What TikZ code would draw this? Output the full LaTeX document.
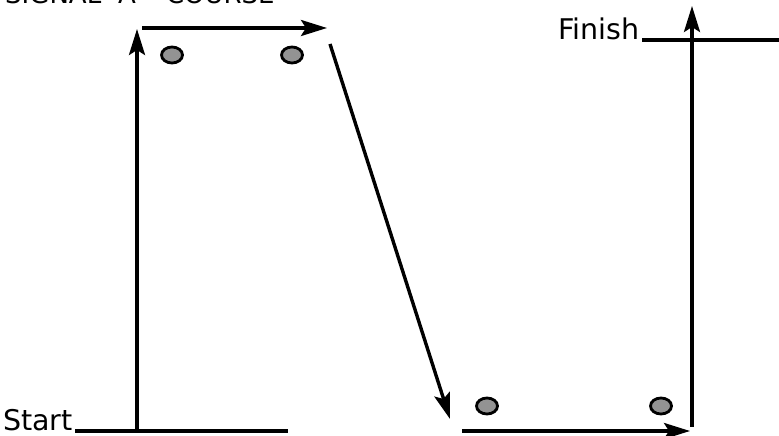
\documentclass[tikz,border=0pt]{standalone}
\usepackage{fontspec}
\setmainfont{DejaVu Sans}
\usetikzlibrary{arrows.meta,shapes.geometric}
\definecolor{dotgray}{HTML}{939393}
\tikzset{
  course/.style={line width=3.4pt, draw=black},
  leg/.style={course, -{Stealth[length=26pt,width=16pt,inset=5pt]}},
  marker/.style={ellipse, draw=black, line width=2.8pt, fill=dotgray, minimum width=21pt, minimum height=16pt, inner sep=0pt},
  lab/.style={inner sep=0pt, anchor=base west, font=\fontsize{28.5}{31}\selectfont},
  titlelab/.style={inner sep=0pt, anchor=base west, font=\fontsize{26}{29}\selectfont}
}
\begin{document}
\begin{tikzpicture}[x=1pt,y=1pt]
\clip (0,0) rectangle (779,436);
\useasboundingbox (0,0) rectangle (779,436);
\fill[white] (0,0) rectangle (779,436);
% title (cut off by the top edge)
\node[titlelab] (title) at (5,432) {SIGNAL\hspace{17pt}A\hspace{30pt}COURSE};
% labels
\node[lab] (start) at (3,5) {Start};
\node[lab] (finish) at (558,396) {Finish};
% start and finish lines
\coordinate (s1) at (75,5);
\coordinate (s2) at (288,5);
\coordinate (f1) at (642,396);
\coordinate (f2) at (779,396);
\draw[course] (s1) -- (s2);
\draw[course] (f1) -- (f2);
% course legs
\coordinate (a0) at (137,5);
\coordinate (a1) at (137,407);
\coordinate (b0) at (142,408);
\coordinate (b1) at (327,408);
\coordinate (c0) at (330,392);
\coordinate (c1) at (450,17);
\coordinate (d0) at (462,5);
\coordinate (d1) at (690,5);
\coordinate (e0) at (692,9);
\coordinate (e1) at (692,430);
\draw[leg] (a0) -- (a1);
\draw[leg] (b0) -- (b1);
\draw[leg] (c0) -- (c1);
\draw[leg] (d0) -- (d1);
\draw[leg] (e0) -- (e1);
% markers
\node[marker] (m1) at (172,381) {};
\node[marker] (m2) at (292,381) {};
\node[marker] (m3) at (487,30) {};
\node[marker] (m4) at (661,30) {};
\end{tikzpicture}
\end{document}
